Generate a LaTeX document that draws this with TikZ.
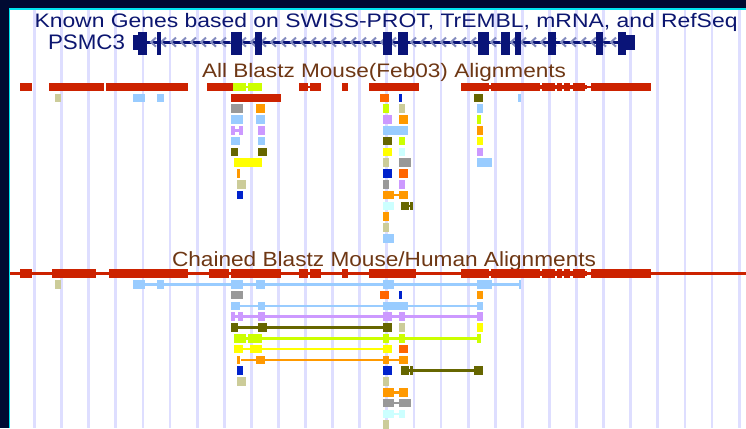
\documentclass[tikz,border=0pt]{standalone}
\usepackage{fontspec}
\setmainfont{Liberation Sans}
\usepackage{graphicx}
\definecolor{bgdark}{RGB}{0,10,50}
\definecolor{edgecyan}{RGB}{0,230,240}
\definecolor{gridc}{RGB}{222,222,255}
\definecolor{navyt}{RGB}{12,22,112}
\definecolor{genec}{RGB}{10,20,120}
\definecolor{chevc}{RGB}{130,138,190}
\definecolor{brownt}{RGB}{110,55,20}
\definecolor{rd}{RGB}{204,34,0}
\definecolor{yg}{RGB}{204,255,0}
\definecolor{kh}{RGB}{204,204,153}
\definecolor{lb}{RGB}{153,204,255}
\definecolor{orc}{RGB}{255,153,0}
\definecolor{orr}{RGB}{255,102,0}
\definecolor{bl}{RGB}{0,34,204}
\definecolor{ol}{RGB}{102,102,0}
\definecolor{gr}{RGB}{153,153,153}
\definecolor{lv}{RGB}{204,153,255}
\definecolor{ye}{RGB}{255,255,0}
\definecolor{lc}{RGB}{204,255,255}
\newcommand\gblk[4]{\fill[#1] (#3,{\trkY+10.8*(#2-1)}) rectangle (#4,{\trkY+8.5+10.8*(#2-1)});}
\newcommand\gcon[4]{\fill[#1] (#3,{\trkY+3+10.8*(#2-1)}) rectangle (#4,{\trkY+5.5+10.8*(#2-1)});}
\newcommand\gnotch[4]{\fill[#1] (#3,{\trkY+2.2+10.8*(#2-1)}) rectangle (#4,{\trkY+6.3+10.8*(#2-1)});}
\tikzset{
  lbl/.style={anchor=base west, inner sep=0pt, outer sep=0pt},
  chev/.style={draw=chevc, line width=2pt},
  exon/.style={fill=genec}
}
\begin{document}
\begin{tikzpicture}[x=1pt,y=-1pt]
\useasboundingbox (0,0) rectangle (746,428);
\fill[bgdark] (0,0) rectangle (746,428);
\fill[white] (9,9) rectangle (746,428);
\draw[edgecyan, line width=1.4pt] (9.2,428) -- (9.2,9.2) -- (746,9.2);
\foreach \k in {0,...,26} \draw[gridc, line width=2.8pt] ({34.5+27.1*\k},10) -- ({34.5+27.1*\k},428);
% titles
\node[lbl, text=navyt, font=\fontsize{19.5}{20}\selectfont] (title) at (34.5,27.5) {\resizebox{703pt}{\height}{Known Genes based on SWISS-PROT, TrEMBL, mRNA, and RefSeq}};
\node[lbl, text=navyt, font=\fontsize{21}{22}\selectfont] (gname) at (48,50) {\resizebox{77pt}{\height}{PSMC3}};
\node[lbl, text=brownt, font=\fontsize{19.5}{20}\selectfont] (tA) at (202,77.5) {\resizebox{364pt}{\height}{All Blastz Mouse(Feb03) Alignments}};
\node[lbl, text=brownt, font=\fontsize{20.5}{21}\selectfont] (tB) at (172,266) {\resizebox{424pt}{\height}{Chained Blastz Mouse/Human Alignments}};
% gene model
\fill[genec] (138,40.6) rectangle (626,43.6);
\foreach \c in {151,161,171,...,621} \draw[chev] (\c+5,37.6) -- (\c,42.1) -- (\c+5,46.6);
\foreach \a/\b in {138/147,156.5/160.5,231/242,255/262,383/391.5,398/408,478/489,501/509.5,515/521,548/556,596/602.5,618/626}
  \fill[genec] (\a,32) rectangle (\b,55);
\fill[genec] (133,35) rectangle (138,50);
\fill[genec] (626,35) rectangle (635,50);
% ---------- All Blastz track
\def\trkY{82.8}
\gcon{yg}{1}{245}{249}
\gcon{rd}{1}{307}{311}
\gnotch{rd}{1}{487}{587}
\gcon{rd}{1}{586}{593}
\foreach \a/\b in {20/32,49/104,106/188,207/233,299/308,310/321,342/348,369/419,461/489,491/540,542/555,557/562,564/570,573/585,591/651} {\gblk{rd}{1}{\a}{\b}}
\gblk{yg}{1}{233}{246}\gblk{yg}{1}{248}{262}
% row 2
\gblk{kh}{2}{55}{61}\gblk{lb}{2}{133}{145}\gblk{lb}{2}{157}{164}\gblk{rd}{2}{231}{281}
\gblk{orr}{2}{380}{389}\gblk{bl}{2}{399}{402}\gblk{ol}{2}{474}{483}\gblk{lb}{2}{518}{521}
% row 3
\gblk{gr}{3}{231}{243}\gblk{orc}{3}{256}{265}\gblk{yg}{3}{383}{389}\gblk{kh}{3}{399}{405}\gblk{lb}{3}{477}{483}
% row 4
\gblk{lb}{4}{231}{243}\gblk{lb}{4}{256}{265}\gblk{lv}{4}{383}{392}\gblk{orc}{4}{399}{408}\gblk{yg}{4}{477}{481}
% row 5
\gcon{lv}{5}{234}{239}\gblk{lv}{5}{231}{234.5}\gblk{lv}{5}{238.5}{243}\gblk{lv}{5}{258}{265}\gblk{lb}{5}{383}{408}\gblk{orc}{5}{477}{483}
% row 6
\gblk{lb}{6}{231}{240}\gblk{lb}{6}{258}{265}\gblk{ol}{6}{383}{392}\gblk{yg}{6}{399}{405}\gblk{ye}{6}{477}{483}
% row 7
\gblk{ol}{7}{231}{238}\gblk{ol}{7}{258}{267}\gblk{ye}{7}{383}{392}\gblk{lc}{7}{399}{405}\gblk{lv}{7}{477}{483}
% row 8
\gblk{ye}{8}{234}{262}\gblk{kh}{8}{383}{389}\gblk{gr}{8}{399}{411}\gblk{lb}{8}{477}{492}
% row 9
\gblk{orc}{9}{237}{240}\gblk{bl}{9}{383}{392}\gblk{orr}{9}{399}{408}
% row 10
\gblk{kh}{10}{237}{246}\gblk{gr}{10}{383}{389}\gblk{lv}{10}{399}{405}
% row 11
\gblk{bl}{11}{237}{243}\gcon{orc}{11}{393}{400}\gblk{orc}{11}{383}{394}\gblk{orc}{11}{399}{408}
% row 12
\gblk{lc}{12}{383}{394}\gcon{ol}{12}{408}{411}\gblk{ol}{12}{401}{409}\gblk{ol}{12}{410}{413}
% rows 13-15
\gblk{orc}{13}{383}{389}
\gblk{kh}{14}{383}{389}
\gblk{lb}{15}{383}{394}
% ---------- Chained track
\def\trkY{269.2}
\fill[rd] (10,272.3) rectangle (746,274.7);
\gnotch{rd}{1}{487}{587}
\foreach \a/\b in {20/32,52/96,109/188,209/229,231/281,299/308,310/321,342/348,369/416,461/489,491/540,542/555,557/562,564/570,573/585,591/651} {\gblk{rd}{1}{\a}{\b}}
% row 2
\gblk{kh}{2}{55}{61}
\gcon{lb}{2}{133}{520}
\foreach \a/\b in {133/145,157/164,231/243,256/265,383/394,477/492,518.5/520.5} {\gblk{lb}{2}{\a}{\b}}
% row 3
\gblk{gr}{3}{231}{243}\gblk{orr}{3}{380}{389}\gblk{bl}{3}{399}{402}\gblk{orc}{3}{477}{483}
% row 4
\gcon{lb}{4}{231}{483}
\foreach \a/\b in {231/240,258/265,383/408,477/483} {\gblk{lb}{4}{\a}{\b}}
% row 5
\gcon{lv}{5}{231}{483}
\foreach \a/\b in {231/235,238/243,258/265,383/392,399/405,477/483} {\gblk{lv}{5}{\a}{\b}}
% row 6
\gcon{ol}{6}{231}{392}
\foreach \a/\b in {231/238,258/267,383/392} {\gblk{ol}{6}{\a}{\b}}
\gblk{kh}{6}{399}{405}\gblk{ye}{6}{477}{483}
% row 7
\gcon{yg}{7}{234}{481}
\foreach \a/\b in {234/246,248/262,383/389,399/405,477/481} {\gblk{yg}{7}{\a}{\b}}
% row 8
\gcon{ye}{8}{234}{392}
\foreach \a/\b in {234/243,250/262,383/392} {\gblk{ye}{8}{\a}{\b}}
\gblk{orr}{8}{399}{408}
% row 9
\gcon{orc}{9}{241}{408}
\foreach \a/\b in {237/240,256/265,383/389,399/408} {\gblk{orc}{9}{\a}{\b}}
% row 10
\gblk{bl}{10}{237}{243}\gblk{bl}{10}{383}{392}
\gcon{ol}{10}{401}{483}
\foreach \a/\b in {401/409,410/413,474/483} {\gblk{ol}{10}{\a}{\b}}
% row 11
\gblk{kh}{11}{237}{246}\gblk{kh}{11}{383}{389}
% row 12
\gcon{orc}{12}{383}{408}\gblk{orc}{12}{383}{394}\gblk{orc}{12}{399}{408}
% row 13
\gcon{gr}{13}{383}{411}\gblk{gr}{13}{383}{394}\gblk{gr}{13}{399}{411}
% row 14
\gcon{lc}{14}{383}{405}\gblk{lc}{14}{383}{394}\gblk{lc}{14}{399}{405}
% row 15
\gblk{kh}{15}{383}{389}
\end{tikzpicture}
\end{document}
